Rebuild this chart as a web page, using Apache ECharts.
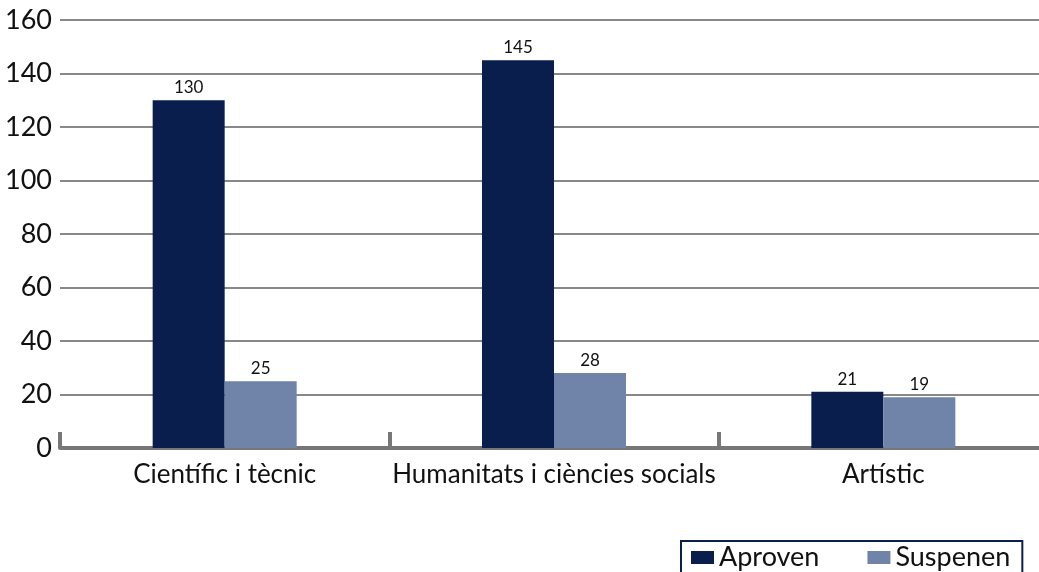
<!DOCTYPE html>
<html>
<head>
<meta charset="utf-8">
<script src="https://cdn.jsdelivr.net/npm/echarts@6/dist/echarts.min.js"></script>
<style>
html,body{margin:0;padding:0;background:#fff;}
#c{width:1039px;height:572px;}
</style>
</head>
<body>
<div id="c"></div>
<script>
const categories = ["Científic i tècnic", "Humanitats i ciències socials", "Artístic"];
const aproven = [130, 145, 21];
const suspenen = [25, 28, 19];
const yTicks = [0, 20, 40, 60, 80, 100, 120, 140, 160];

const FONT = 'Lato';
const chart = echarts.init(document.getElementById('c'));
const labelStyle = {show: true, position: 'top', fontFamily: FONT, fontSize: 17, color: '#111', distance: 4};
chart.setOption({
  animation: false,
  textStyle: {fontFamily: FONT},
  grid: {left: 60, width: 988, top: 20, height: 428, containLabel: false, outerBoundsMode: 'none'},
  legend: {
    data: ['Aproven', 'Suspenen'],
    left: 681, top: 541,
    icon: 'rect', itemWidth: 23, itemHeight: 13, itemGap: 48,
    borderColor: '#0a1e4e', borderWidth: 2,
    padding: [3, 12, 12, 10],
    textStyle: {fontFamily: FONT, fontSize: 27, color: '#111'}
  },
  xAxis: {
    type: 'category',
    data: categories,
    axisLine: {lineStyle: {color: '#777', width: 4}},
    axisTick: {show: true, inside: true, length: 16, lineStyle: {color: '#777', width: 4}},
    axisLabel: {fontFamily: FONT, fontSize: 26, color: '#111', margin: 14, interval: 0}
  },
  yAxis: {
    type: 'value', min: yTicks[0], max: yTicks[yTicks.length - 1], interval: 20,
    axisLine: {show: false},
    axisTick: {show: false},
    splitLine: {lineStyle: {color: '#888', width: 2}},
    axisLabel: {fontFamily: FONT, fontSize: 27, color: '#111', margin: 8}
  },
  series: [
    {name: 'Aproven', type: 'bar', data: aproven, barWidth: 72, barGap: '0%',
     itemStyle: {color: '#0a1e4e'}, label: labelStyle},
    {name: 'Suspenen', type: 'bar', data: suspenen, barWidth: 72, barGap: '0%',
     itemStyle: {color: '#7083a9'}, label: labelStyle}
  ]
});
</script>
</body>
</html>
